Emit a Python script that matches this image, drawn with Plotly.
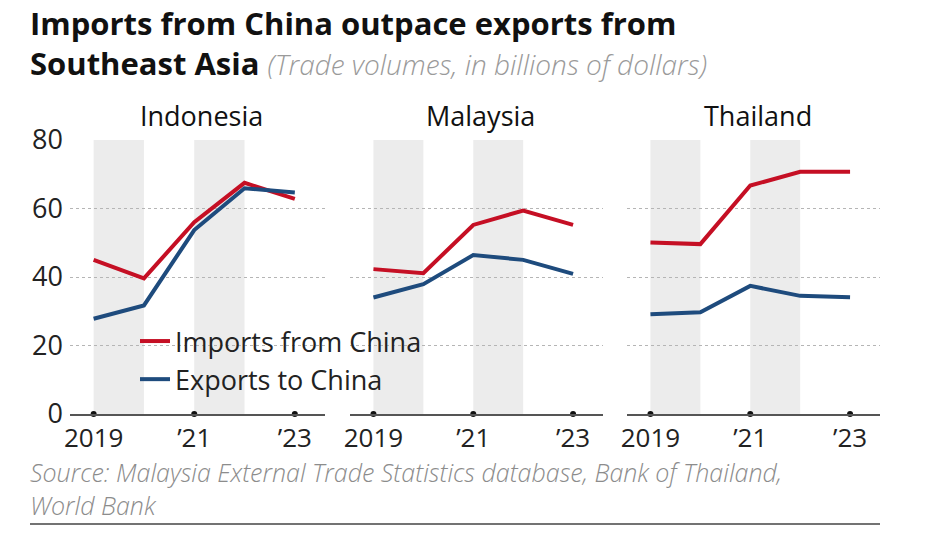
import plotly.graph_objects as go

years = [2019, 2020, 2021, 2022, 2023]
countries = ["Indonesia", "Malaysia", "Thailand"]
imports_indonesia = [45.0, 39.6, 56.0, 67.5, 62.8]
exports_indonesia = [27.8, 31.7, 53.7, 65.9, 64.7]
imports_malaysia = [42.3, 41.1, 55.2, 59.4, 55.2]
exports_malaysia = [34.0, 37.9, 46.4, 45.0, 40.9]
imports_thailand = [50.1, 49.6, 66.7, 70.7, 70.7]
exports_thailand = [29.1, 29.7, 37.4, 34.5, 34.1]
imports = [imports_indonesia, imports_malaysia, imports_thailand]
exports = [exports_indonesia, exports_malaysia, exports_thailand]
shaded_periods = [(2019, 2020), (2021, 2022)]
xtick_vals = [2019, 2021, 2023]
xtick_text = ["2019", "\u201921", "\u201923"]
ytick_vals = [0, 20, 40, 60, 80]

RED = "#c50f24"
BLUE = "#1e4b7d"
W, H = 935, 537
FONT = "Open Sans"

def px_x(p):
    return p / W

def px_y(p):
    return 1 - p / H

domains = [(70, 325), (350, 603), (627, 880)]
ydom = [px_y(414), px_y(140)]

fig = go.Figure()
layout = {}
for i, c in enumerate(countries):
    n = "" if i == 0 else str(i + 1)
    xa, ya = "x" + n, "y" + n
    fig.add_trace(go.Scatter(x=years, y=imports[i], mode="lines", name="Imports from China",
                             line=dict(color=RED, width=4), xaxis=xa, yaxis=ya,
                             showlegend=(i == 0)))
    fig.add_trace(go.Scatter(x=years, y=exports[i], mode="lines", name="Exports to China",
                             line=dict(color=BLUE, width=4), xaxis=xa, yaxis=ya,
                             showlegend=(i == 0)))
    fig.add_trace(go.Scatter(x=xtick_vals, y=[0] * len(xtick_vals), mode="markers",
                             marker=dict(color="#111", size=6), cliponaxis=False,
                             xaxis=xa, yaxis=ya, showlegend=False, hoverinfo="skip"))
    layout["xaxis" + n] = dict(domain=[px_x(domains[i][0]), px_x(domains[i][1])],
                               range=[2018.53, 2023.6], anchor=ya,
                               tickvals=xtick_vals, ticktext=xtick_text,
                               tickfont=dict(size=26, color="#222", family=FONT),
                               showgrid=False, zeroline=False, showline=True,
                               linecolor="#555", linewidth=1.5, ticks="")
    layout["yaxis" + n] = dict(domain=ydom, range=[0, 80], anchor=xa,
                               tickvals=ytick_vals, showticklabels=(i == 0),
                               tickfont=dict(size=27, color="#222", family=FONT),
                               ticklabelstandoff=6,
                               showgrid=True, gridcolor="#b5b5b5", griddash="dot",
                               gridwidth=1, zeroline=False, showline=False, ticks="")
    for (a, b) in shaded_periods:
        fig.add_shape(type="rect", xref=xa, yref=ya, x0=a, x1=b, y0=0, y1=80,
                      fillcolor="#ececec", line_width=0, layer="below")
    fig.add_annotation(text=c, xref="paper", yref="paper",
                       x=px_x((domains[i][0] + domains[i][1]) / 2 + 4), y=px_y(115),
                       xanchor="center", yanchor="middle",
                       showarrow=False, font=dict(size=27, color="#111", family=FONT))

fig.update_layout(**layout)

fig.add_annotation(
    text="<b>Imports from China outpace exports from</b><br><b>Southeast Asia</b> "
         "<i><span style='color:#9a9a9a;font-size:28px;font-weight:300'>(Trade volumes, in billions of dollars)</span></i>",
    xref="paper", yref="paper", x=px_x(28), y=px_y(43), xanchor="left", yanchor="middle",
    align="left", showarrow=False, font=dict(size=31, color="#111", family=FONT))
fig.add_annotation(
    text="<i>Source: Malaysia External Trade Statistics database, Bank of Thailand,<br>World Bank</i>",
    xref="paper", yref="paper", x=px_x(28), y=px_y(488), xanchor="left", yanchor="middle",
    align="left", showarrow=False,
    font=dict(size=25, color="#8c8c8c", family=FONT, weight=300))
fig.add_shape(type="line", xref="paper", yref="paper", x0=px_x(30), x1=px_x(880),
              y0=px_y(524), y1=px_y(524), line=dict(color="#444", width=1.5))

fig.update_layout(
    width=W, height=H, margin=dict(l=0, r=0, t=0, b=0, autoexpand=False),
    paper_bgcolor="white", plot_bgcolor="white",
    showlegend=True,
    legend=dict(x=px_x(135), y=px_y(317), xanchor="left", yanchor="top",
                bgcolor="rgba(0,0,0,0)", font=dict(size=27, color="#222", family=FONT),
                traceorder="normal", tracegroupgap=0, itemwidth=30),
)

fig.write_html("out.html", config={"displayModeBar": False},
               post_script="document.body.style.margin='0px';")
